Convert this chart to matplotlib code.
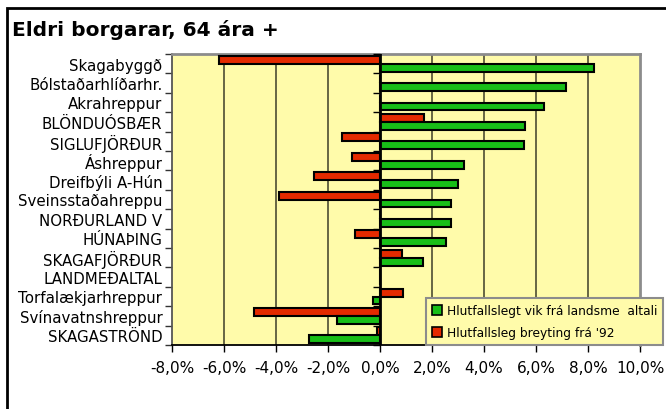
import matplotlib
matplotlib.use('Agg')
import matplotlib.pyplot as plt
from matplotlib.patches import Patch, Rectangle
import numpy as np

# gögn, röð ofan frá og niður
categories = ['Skagabyggð', 'Bólstaðarhlíðarhr.', 'Akrahreppur', 'BLÖNDUÓSBÆR',
              'SIGLUFJÖRÐUR', 'Áshreppur', 'Dreifbýli A-Hún', 'Sveinsstaðahreppu',
              'NORÐURLAND V', 'HÚNAÞING', 'SKAGAFJÖRÐUR', 'LANDMEÐALTAL',
              'Torfalækjarhreppur', 'Svínavatnshreppur', 'SKAGASTRÖND']
vik = [8.23, 7.14, 6.30, 5.59, 5.54, 3.24, 3.00, 2.72, 2.72, 2.52, 1.67, 0.0,
       -0.26, -1.67, -2.75]
breyting = [-6.20, 0.0, 0.0, 1.69, -1.48, -1.07, -2.53, -3.88, 0.0, -0.96, 0.86, 0.0,
            0.90, -4.83, -0.13]
xticks = [-8, -6, -4, -2, 0, 2, 4, 6, 8, 10]

legend_vik = 'Hlutfallslegt vik frá landsme  altali'
legend_breyting = "Hlutfallsleg breyting frá '92"
title = 'Eldri borgarar, 64 ára +'

green = '#18BE18'
red = '#E42A00'
yellow = '#FFFBAA'

W, H = 666, 410
fig = plt.figure(figsize=(W / 100, H / 100), dpi=100)
ax = fig.add_axes([172 / W, 1 - 346 / H, 468 / W, 291 / H])
ax.set_facecolor(yellow)

y = np.arange(len(categories))
bh = 0.41
ax.barh(y - bh / 2, breyting, bh, color=red, edgecolor='black', lw=1.5, zorder=3)
ax.barh(y + bh / 2, vik, bh, color=green, edgecolor='black', lw=1.5, zorder=3)

ax.set_xlim(-8, 10)
ax.set_ylim(len(categories) - 0.5, -0.5)

# rúðunet
for v in xticks[1:-1]:
    if v != 0:
        ax.axvline(v, color='#5a5a3c', lw=1.3, zorder=1)
ax.axvline(0, color='black', lw=2, zorder=4)

# ásar
ax.set_xticks(xticks)
ax.set_xticklabels([f'{v:.1f}%'.replace('.', ',') for v in xticks])
ax.tick_params(axis='x', direction='out', length=5, width=1, pad=6, labelsize=11)
ax.set_yticks(y)
ax.set_yticklabels(categories)
ax.set_yticks(np.arange(len(categories) + 1) - 0.5, minor=True)
ax.tick_params(axis='y', which='major', length=0, pad=7, labelsize=10.8)
ax.tick_params(axis='y', which='minor', length=5, width=1, direction='out', color='#333333')

ax.spines['bottom'].set_color('black')
ax.spines['bottom'].set_linewidth(1.3)
ax.spines['left'].set_color('#555555')
ax.spines['left'].set_linewidth(1.3)
for s in ['top', 'right']:
    ax.spines[s].set_color('#8c8c8c')
    ax.spines[s].set_linewidth(2)

# smástrik við 0-ásinn
ax2 = ax.twinx()
ax2.set_ylim(ax.get_ylim())
ax2.spines['right'].set_position(('data', 0))
for s in ['top', 'left', 'bottom', 'right']:
    ax2.spines[s].set_visible(False)
ax2.set_yticks(np.arange(len(categories) + 1) - 0.5)
ax2.tick_params(axis='y', direction='in', length=5, width=1, labelright=False)

# skýringar
handles = [Patch(facecolor=green, edgecolor='black', lw=1.2, label=legend_vik),
           Patch(facecolor=red, edgecolor='black', lw=1.2, label=legend_breyting)]
leg = ax2.legend(handles=handles, loc='upper left', bbox_to_anchor=(426 / W, 1 - 299 / H),
                 bbox_transform=fig.transFigure, borderaxespad=0, fancybox=False,
                 framealpha=1, facecolor=yellow, edgecolor='#8c8c8c', fontsize=8.8,
                 handlelength=0.8, handleheight=0.8, handletextpad=0.4,
                 borderpad=0.5, labelspacing=0.75)
leg.get_frame().set_linewidth(1.5)

fig.text(12 / W, 1 - 36 / H, title, fontsize=14.5, fontweight='bold', ha='left', va='baseline')

fig.patches.append(Rectangle((7 / W, -0.1), 1.2, 1 - 9 / H + 0.1, transform=fig.transFigure,
                             fill=False, edgecolor='black', lw=2))

fig.savefig('out.png', dpi=100)
